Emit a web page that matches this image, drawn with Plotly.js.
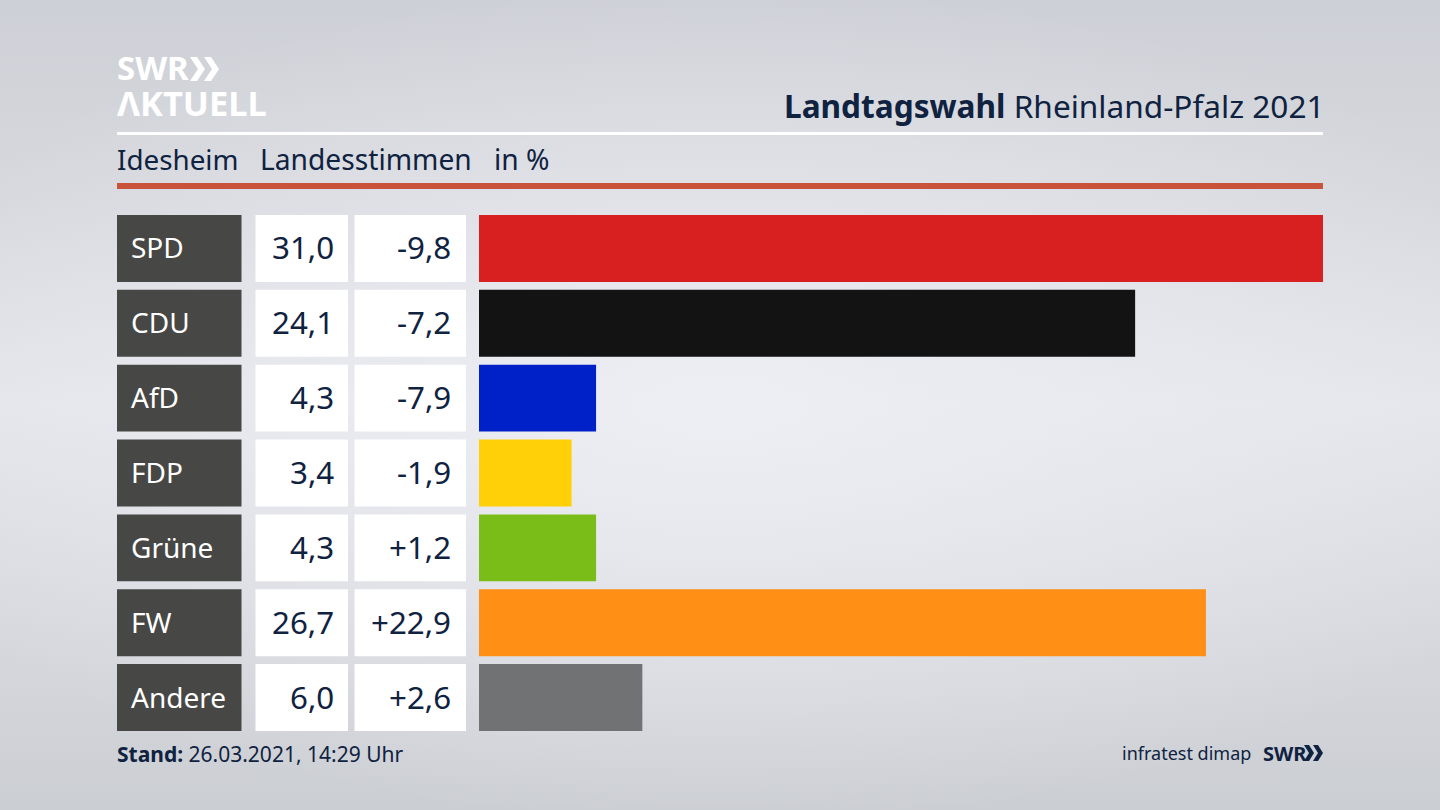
<!DOCTYPE html>
<html><head><meta charset="utf-8">
<script src="https://cdn.plot.ly/plotly-3.0.1.min.js"></script>
<style>
html,body{margin:0;padding:0;width:1440px;height:810px;overflow:hidden;
background:radial-gradient(ellipse 900px 420px at 50% 50%, rgba(238,239,244,.9) 0%, rgba(238,239,244,0) 100%), linear-gradient(180deg,#cdd0d6 0%,#d6d8dd 25%,#e4e5ea 50%,#d6d8dd 78%,#cbced3 100%);}
#chart{width:1440px;height:810px;}
</style></head><body><div id="chart"></div>
<script>
const parties = ['SPD','CDU','AfD','FDP','Grüne','FW','Andere'];
const shares = [31.0,24.1,4.3,3.4,4.3,26.7,6.0];
const diffs = [-9.8,-7.2,-7.9,-1.9,1.2,22.9,2.6];
const colors = ['#d7201f','#131313','#0020c8','#ffcf07','#7abd19','#ff8f15','#717274'];
const FONT = 'Noto Sans';
const INK = '#0f2240';
const L=479,R=1323,T=215,B=731,W=1440,H=810;
const px = x => (x-L)/(R-L);
const py = y => (B-y)/(B-T);
const fmt = v => v.toFixed(1).replace('.',',');
const sgn = v => (v>0?'+':'')+fmt(v);
const txt = (text,x,y,size,color,anchor,extra) => Object.assign({text,x:px(x),y:py(y),xref:'paper',yref:'paper',
  xanchor:anchor||'left',yanchor:'middle',showarrow:false,borderpad:0,font:{family:FONT,size,color}},extra||{});
const rectPx = (x0,y0,x1,y1,fill) => ({type:'rect',xref:'paper',yref:'paper',x0:px(x0),x1:px(x1),y0:py(y0),y1:py(y1),fillcolor:fill,line:{width:0},layer:'below'});
const chev = (x,y,h,w,th,fill) => {
  const pts=[[x,y],[x+th,y],[x+th+w,y+h/2],[x+th,y+h],[x,y+h],[x+w,y+h/2]];
  return {type:'path',xref:'paper',yref:'paper',line:{width:0},fillcolor:fill,
    path:'M'+pts.map(p=>px(p[0])+','+py(p[1])).join(' L')+' Z'};
};
const annotations=[], shapes=[];
const halfBar=0.447;
parties.forEach((p,i)=>{
  const y0=i-halfBar,y1=i+halfBar;
  const cell=(x0,x1,fill)=>shapes.push({type:'rect',xref:'paper',yref:'y',x0:px(x0),x1:px(x1),y0,y1,fillcolor:fill,line:{width:0},layer:'below'});
  cell(117,241.5,'#474745');cell(255.5,348,'#ffffff');cell(354.5,466,'#ffffff');
  const a=(text,x,size,color,anchor)=>annotations.push({text,x:px(x),y:i,yshift:1,xref:'paper',yref:'y',xanchor:anchor,yanchor:'middle',showarrow:false,borderpad:0,font:{family:FONT,size,color}});
  a(p,130,28,'#ffffff','left');
  a(fmt(shares[i]),335,31.3,INK,'right');
  a(sgn(diffs[i]),452,31.3,INK,'right');
});
shapes.push(rectPx(117,132,1323,135,'#ffffff'));
shapes.push(rectPx(117,183,1323,189,'#c9523a'));
shapes.push(chev(190,57,24,8,7,'#ffffff'),chev(204,57,24,8,7,'#ffffff'));
shapes.push(chev(1304,745,16,5,5,INK),chev(1313,745,16,5,5,INK));
annotations.push(
  txt('<b>SWR</b>',116,68,33,'#ffffff'),
  txt('<b>ΛKTUELL</b>',116,102,34.5,'#ffffff'),
  txt('<b>Landtagswahl</b> Rheinland-Pfalz 2021',1326,105,31.6,INK,'right'),
  txt('Idesheim',116,159,27.8,INK),
  txt('Landesstimmen',259,159,28.2,INK),
  txt('in %',493,159,28.2,INK),
  txt('<b>Stand:</b> 26.03.2021, 14:29 Uhr',116,754,21,INK),
  txt('infratest dimap',1252,753,18,INK,'right'),
  txt('<b>SWR</b>',1262,753,20,INK)
);
Plotly.newPlot('chart',[{type:'bar',orientation:'h',x:shares,y:parties.map((_,i)=>i),width:halfBar*2,
  marker:{color:colors,line:{width:0}},hoverinfo:'skip'}],{
  width:W,height:H,autosize:false,showlegend:false,
  paper_bgcolor:'rgba(0,0,0,0)',plot_bgcolor:'rgba(0,0,0,0)',
  margin:{l:L,r:W-R,t:T,b:H-B,pad:0},
  xaxis:{range:[0,31],visible:false,fixedrange:true},
  yaxis:{range:[6+halfBar,-halfBar],visible:false,fixedrange:true},
  shapes,annotations,font:{family:FONT}
},{displayModeBar:false,staticPlot:true});
</script></body></html>
